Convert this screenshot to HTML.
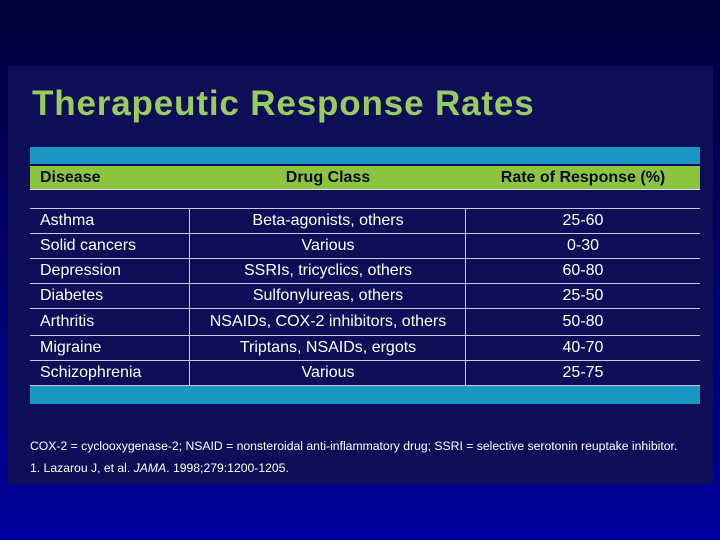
<!DOCTYPE html>
<html><head><meta charset="utf-8"><style>
html,body{margin:0;padding:0}
body{width:720px;height:540px;position:relative;overflow:hidden;background:linear-gradient(#00003a,#00006a 50%,#00009e);font-family:"Liberation Sans",Arial,sans-serif}
#panel{position:absolute;left:8px;top:66px;width:705px;height:418px;background:#0e0e58}
.abs{position:absolute}
#title{left:32px;top:84px;font-size:35px;font-weight:bold;color:#98cc5e;letter-spacing:0.85px;white-space:nowrap}
.band{position:absolute;left:30px;width:670px}
.hline{position:absolute;left:30px;width:670px;height:1px;background:#c8c8e0}
.vline{position:absolute;width:1px;background:#c8c8e0;top:208px;height:177px}
.cell{position:absolute;color:#fff;font-size:16px;height:25px;line-height:25px;white-space:nowrap}
.hd{position:absolute;color:#0a0a20;font-size:16px;font-weight:bold;top:166px;line-height:23px;white-space:nowrap}
.fn{position:absolute;left:30px;color:#fff;font-size:12.2px;white-space:nowrap}
</style></head><body>
<div id="panel"></div>
<div id="title" class="abs">Therapeutic Response Rates</div>
<div class="band" style="top:147px;height:17px;background:#1a96c2"></div>
<div class="band" style="top:166px;height:23px;background:#8dc43e;border-bottom:1px solid #e0e0f0"></div>
<div class="hd" style="left:40px">Disease</div>
<div class="hd" style="left:190px;width:276px;text-align:center">Drug Class</div>
<div class="hd" style="left:466px;width:234px;text-align:center">Rate of Response (%)</div>
<div id="rows"></div>
<div class="band" style="top:386px;height:18px;background:#1a96c2"></div>
<div class="fn" style="top:439px">COX-2 = cyclooxygenase-2; NSAID = nonsteroidal anti-inflammatory drug; SSRI = selective serotonin reuptake inhibitor.</div>
<div class="fn" style="top:461px">1. Lazarou J, et al. <i>JAMA</i>. 1998;279:1200-1205.</div>
<script>
const diseases=["Asthma","Solid cancers","Depression","Diabetes","Arthritis","Migraine","Schizophrenia"];
const drugClasses=["Beta-agonists, others","Various","SSRIs, tricyclics, others","Sulfonylureas, others","NSAIDs, COX-2 inhibitors, others","Triptans, NSAIDs, ergots","Various"];
const rates=["25-60","0-30","60-80","25-50","50-80","40-70","25-75"];
const rowTops=[208,233,258,283,308,335,360];
const root=document.getElementById('rows');
function add(cls,style,text){const d=document.createElement('div');d.className=cls;d.style.cssText=style;if(text!==undefined)d.textContent=text;root.appendChild(d);return d;}
const l0=add('hline','top:208px');


diseases.forEach((d,i)=>{
 const t=rowTops[i];const h=(i<rowTops.length-1?rowTops[i+1]:385)-t;
 const a=add('cell',`left:40px;top:${t}px;height:${h}px;line-height:${h}px`,d);
 
 
 const b=add('cell',`left:190px;width:276px;text-align:center;top:${t}px;height:${h}px;line-height:${h}px`,drugClasses[i]);
 
 
 const c=add('cell',`left:466px;width:234px;text-align:center;top:${t}px;height:${h}px;line-height:${h}px`,rates[i]);
 
 
 const ln=add('hline',`top:${t+h}px`);
 
 
});
const v1=add('vline','left:189px');


const v2=add('vline','left:465px');


</script>
</body></html>
